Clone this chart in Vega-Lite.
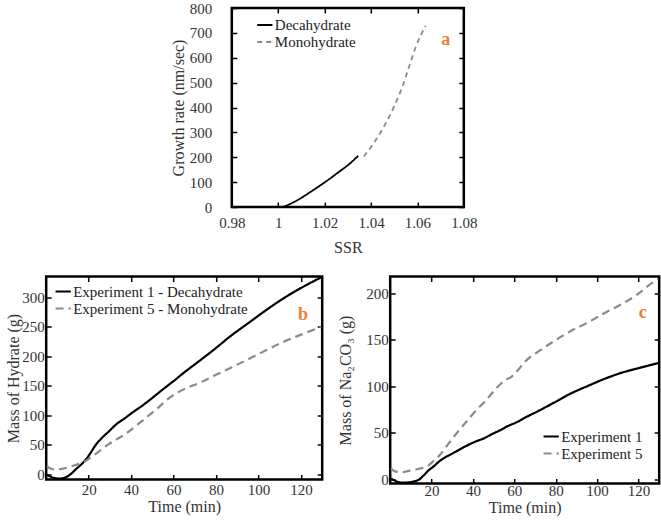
{
  "$schema": "https://vega.github.io/schema/vega-lite/v6.json",
  "padding": {"left": 4, "top": -1, "right": 2, "bottom": 0},
  "background": "white",
  "datasets": {
    "a_lines": [
      {"series": "Decahydrate", "ssr": 1.002, "rate": 0},
      {"series": "Decahydrate", "ssr": 1.006, "rate": 16},
      {"series": "Decahydrate", "ssr": 1.010, "rate": 37},
      {"series": "Decahydrate", "ssr": 1.014, "rate": 61},
      {"series": "Decahydrate", "ssr": 1.018, "rate": 86},
      {"series": "Decahydrate", "ssr": 1.022, "rate": 112},
      {"series": "Decahydrate", "ssr": 1.026, "rate": 140},
      {"series": "Decahydrate", "ssr": 1.030, "rate": 168},
      {"series": "Decahydrate", "ssr": 1.0345, "rate": 206},
      {"series": "Monohydrate", "ssr": 1.0369, "rate": 203},
      {"series": "Monohydrate", "ssr": 1.0419, "rate": 267},
      {"series": "Monohydrate", "ssr": 1.0462, "rate": 334},
      {"series": "Monohydrate", "ssr": 1.0498, "rate": 401},
      {"series": "Monohydrate", "ssr": 1.0534, "rate": 481},
      {"series": "Monohydrate", "ssr": 1.0563, "rate": 561},
      {"series": "Monohydrate", "ssr": 1.0592, "rate": 641},
      {"series": "Monohydrate", "ssr": 1.0635, "rate": 728}
    ],
    "a_label": [{"label": "a", "ssr": 1.0722, "rate": 672}],
    "b_lines": [
      {"series": "Experiment 1 - Decahydrate", "t": 0.5, "m": -1},
      {"series": "Experiment 1 - Decahydrate", "t": 3, "m": -5},
      {"series": "Experiment 1 - Decahydrate", "t": 6, "m": -7},
      {"series": "Experiment 1 - Decahydrate", "t": 9, "m": -5},
      {"series": "Experiment 1 - Decahydrate", "t": 12, "m": 2},
      {"series": "Experiment 1 - Decahydrate", "t": 14, "m": 9},
      {"series": "Experiment 1 - Decahydrate", "t": 16.5, "m": 17},
      {"series": "Experiment 1 - Decahydrate", "t": 18.6, "m": 25},
      {"series": "Experiment 1 - Decahydrate", "t": 21, "m": 37},
      {"series": "Experiment 1 - Decahydrate", "t": 23.3, "m": 50},
      {"series": "Experiment 1 - Decahydrate", "t": 26, "m": 61},
      {"series": "Experiment 1 - Decahydrate", "t": 29.5, "m": 73},
      {"series": "Experiment 1 - Decahydrate", "t": 33, "m": 85},
      {"series": "Experiment 1 - Decahydrate", "t": 37.3, "m": 96},
      {"series": "Experiment 1 - Decahydrate", "t": 41, "m": 106},
      {"series": "Experiment 1 - Decahydrate", "t": 45, "m": 116},
      {"series": "Experiment 1 - Decahydrate", "t": 49, "m": 127},
      {"series": "Experiment 1 - Decahydrate", "t": 52.8, "m": 138},
      {"series": "Experiment 1 - Decahydrate", "t": 57, "m": 150},
      {"series": "Experiment 1 - Decahydrate", "t": 60.6, "m": 160},
      {"series": "Experiment 1 - Decahydrate", "t": 64, "m": 170},
      {"series": "Experiment 1 - Decahydrate", "t": 72, "m": 192},
      {"series": "Experiment 1 - Decahydrate", "t": 79.5, "m": 213},
      {"series": "Experiment 1 - Decahydrate", "t": 87, "m": 235},
      {"series": "Experiment 1 - Decahydrate", "t": 95, "m": 256},
      {"series": "Experiment 1 - Decahydrate", "t": 103, "m": 277},
      {"series": "Experiment 1 - Decahydrate", "t": 110.7, "m": 296},
      {"series": "Experiment 1 - Decahydrate", "t": 120, "m": 316},
      {"series": "Experiment 1 - Decahydrate", "t": 129.5, "m": 334},
      {"series": "Experiment 5 - Monohydrate", "t": 0.3, "m": 14},
      {"series": "Experiment 5 - Monohydrate", "t": 2, "m": 10},
      {"series": "Experiment 5 - Monohydrate", "t": 4.3, "m": 8.5},
      {"series": "Experiment 5 - Monohydrate", "t": 8, "m": 10},
      {"series": "Experiment 5 - Monohydrate", "t": 13.7, "m": 16},
      {"series": "Experiment 5 - Monohydrate", "t": 18.4, "m": 22.5},
      {"series": "Experiment 5 - Monohydrate", "t": 23, "m": 34},
      {"series": "Experiment 5 - Monohydrate", "t": 29.3, "m": 51},
      {"series": "Experiment 5 - Monohydrate", "t": 37, "m": 68},
      {"series": "Experiment 5 - Monohydrate", "t": 44.9, "m": 90},
      {"series": "Experiment 5 - Monohydrate", "t": 52.7, "m": 113},
      {"series": "Experiment 5 - Monohydrate", "t": 57, "m": 127},
      {"series": "Experiment 5 - Monohydrate", "t": 64, "m": 143},
      {"series": "Experiment 5 - Monohydrate", "t": 72, "m": 155},
      {"series": "Experiment 5 - Monohydrate", "t": 79.5, "m": 168},
      {"series": "Experiment 5 - Monohydrate", "t": 87, "m": 181},
      {"series": "Experiment 5 - Monohydrate", "t": 95, "m": 195},
      {"series": "Experiment 5 - Monohydrate", "t": 110.7, "m": 223},
      {"series": "Experiment 5 - Monohydrate", "t": 129.5, "m": 250}
    ],
    "b_label": [{"label": "b", "t": 121, "m": 270}],
    "c_lines": [
      {"series": "Experiment 1", "t": 0.5, "m": 1},
      {"series": "Experiment 1", "t": 3, "m": -2},
      {"series": "Experiment 1", "t": 5.6, "m": -3.4},
      {"series": "Experiment 1", "t": 9, "m": -3},
      {"series": "Experiment 1", "t": 13.6, "m": -0.5},
      {"series": "Experiment 1", "t": 16, "m": 4},
      {"series": "Experiment 1", "t": 18.4, "m": 9.5},
      {"series": "Experiment 1", "t": 21, "m": 14},
      {"series": "Experiment 1", "t": 23.2, "m": 18.5},
      {"series": "Experiment 1", "t": 26, "m": 23},
      {"series": "Experiment 1", "t": 29.6, "m": 27.3},
      {"series": "Experiment 1", "t": 33, "m": 31.5},
      {"series": "Experiment 1", "t": 37.6, "m": 37},
      {"series": "Experiment 1", "t": 41, "m": 40.5},
      {"series": "Experiment 1", "t": 45.6, "m": 44.5},
      {"series": "Experiment 1", "t": 49, "m": 48.5},
      {"series": "Experiment 1", "t": 53.6, "m": 53.4},
      {"series": "Experiment 1", "t": 57, "m": 57.5},
      {"series": "Experiment 1", "t": 61.6, "m": 62},
      {"series": "Experiment 1", "t": 64, "m": 65},
      {"series": "Experiment 1", "t": 72, "m": 74},
      {"series": "Experiment 1", "t": 79.6, "m": 83},
      {"series": "Experiment 1", "t": 87, "m": 92},
      {"series": "Experiment 1", "t": 95.6, "m": 100.5},
      {"series": "Experiment 1", "t": 103, "m": 107.5},
      {"series": "Experiment 1", "t": 111.7, "m": 114.5},
      {"series": "Experiment 1", "t": 120, "m": 119.5},
      {"series": "Experiment 1", "t": 129.5, "m": 125},
      {"series": "Experiment 5", "t": 0.3, "m": 12},
      {"series": "Experiment 5", "t": 2, "m": 9},
      {"series": "Experiment 5", "t": 5.6, "m": 7.8},
      {"series": "Experiment 5", "t": 9.5, "m": 9.5},
      {"series": "Experiment 5", "t": 13.6, "m": 11.3},
      {"series": "Experiment 5", "t": 18.4, "m": 14.9},
      {"series": "Experiment 5", "t": 21, "m": 20},
      {"series": "Experiment 5", "t": 24.8, "m": 28.3},
      {"series": "Experiment 5", "t": 27, "m": 35},
      {"series": "Experiment 5", "t": 29.6, "m": 42.6},
      {"series": "Experiment 5", "t": 33, "m": 52},
      {"series": "Experiment 5", "t": 37.6, "m": 64},
      {"series": "Experiment 5", "t": 41, "m": 73},
      {"series": "Experiment 5", "t": 45.6, "m": 83.4},
      {"series": "Experiment 5", "t": 49, "m": 92},
      {"series": "Experiment 5", "t": 53.6, "m": 103},
      {"series": "Experiment 5", "t": 56, "m": 107},
      {"series": "Experiment 5", "t": 58.4, "m": 110},
      {"series": "Experiment 5", "t": 61.6, "m": 117},
      {"series": "Experiment 5", "t": 64.5, "m": 125},
      {"series": "Experiment 5", "t": 72, "m": 138},
      {"series": "Experiment 5", "t": 79.6, "m": 149},
      {"series": "Experiment 5", "t": 87, "m": 159},
      {"series": "Experiment 5", "t": 95.6, "m": 168.6},
      {"series": "Experiment 5", "t": 103, "m": 178},
      {"series": "Experiment 5", "t": 111.7, "m": 188},
      {"series": "Experiment 5", "t": 119, "m": 198},
      {"series": "Experiment 5", "t": 126.6, "m": 211},
      {"series": "Experiment 5", "t": 129.5, "m": 215}
    ],
    "c_label": [{"label": "c", "t": 122, "m": 179}]
  },
  "config": {
    "font": "Liberation Serif",
    "view": {"stroke": "black", "strokeWidth": 2.5},
    "axis": {
      "grid": false,
      "domain": false,
      "tickColor": "black",
      "tickSize": -5,
      "tickWidth": 1.5,
      "labelFont": "Liberation Serif",
      "labelFontSize": 15,
      "labelColor": "#333",
      "labelFlush": false,
      "labelOverlap": false,
      "titleFont": "Liberation Serif",
      "titleFontSize": 16,
      "titleFontWeight": "normal",
      "titleColor": "#333"
    },
    "legend": {
      "labelFont": "Liberation Serif",
      "labelFontSize": 15,
      "labelColor": "#222",
      "labelLimit": 0,
      "symbolType": "stroke",
      "symbolStrokeWidth": 2,
      "symbolSize": 234,
      "rowPadding": 0,
      "labelOffset": 1,
      "padding": 0,
      "title": null
    }
  },
  "vconcat": [
    {
      "width": 232,
      "height": 199,
      "layer": [
        {
          "data": {"name": "a_lines"},
          "mark": {"type": "line", "interpolate": "monotone", "strokeWidth": 1.8},
          "encoding": {
            "x": {"field": "ssr", "type": "quantitative", "title": "SSR",
              "scale": {"domain": [0.98, 1.08], "nice": false, "zero": false},
              "axis": {"values": [0.98, 1, 1.02, 1.04, 1.06, 1.08], "format": "~g", "labelPadding": 13, "titlePadding": 9}},
            "y": {"field": "rate", "type": "quantitative", "title": "Growth rate (nm/sec)",
              "scale": {"domain": [0, 800], "nice": false},
              "axis": {"values": [0, 100, 200, 300, 400, 500, 600, 700, 800], "labelPadding": 25, "titlePadding": 3}},
            "color": {"field": "series", "type": "nominal",
              "scale": {"domain": ["Decahydrate", "Monohydrate"], "range": ["#000000", "#8a8a8a"]},
              "legend": {"orient": "none", "legendX": 24, "legendY": 8}},
            "strokeDash": {"field": "series", "type": "nominal",
              "scale": {"domain": ["Decahydrate", "Monohydrate"], "range": [[1, 0], [5, 4]]},
              "legend": {"orient": "none", "legendX": 24, "legendY": 8}}
          }
        },
        {
          "data": {"name": "a_label"},
          "mark": {"type": "text", "color": "#ED7D31", "fontWeight": "bold", "fontSize": 18, "font": "Liberation Serif"},
          "encoding": {
            "x": {"field": "ssr", "type": "quantitative", "axis": {"orient": "top", "labels": false, "title": null, "minExtent": 0, "values": [0.98, 1, 1.02, 1.04, 1.06, 1.08]}},
            "y": {"field": "rate", "type": "quantitative", "axis": {"orient": "right", "labels": false, "title": null, "minExtent": 0, "values": [0, 100, 200, 300, 400, 500, 600, 700, 800]}},
            "text": {"field": "label"}
          }
        }
      ],
      "resolve": {"axis": {"x": "independent", "y": "independent"}}
    },
    {
      "hconcat": [
        {
          "width": 276,
          "height": 203,
          "layer": [
            {
              "data": {"name": "b_lines"},
              "mark": {"type": "line", "interpolate": "monotone", "strokeWidth": 2.2},
              "encoding": {
                "x": {"field": "t", "type": "quantitative", "title": "Time (min)",
                  "scale": {"domain": [0, 130], "nice": false},
                  "axis": {"values": [20, 40, 60, 80, 100, 120], "labelPadding": 8, "titlePadding": 1}},
                "y": {"field": "m", "type": "quantitative", "title": "Mass of Hydrate (g)",
                  "scale": {"domain": [-8.5, 335.5], "nice": false, "zero": false},
                  "axis": {"values": [0, 50, 100, 150, 200, 250, 300], "labelPadding": 7, "titlePadding": 0}},
                "color": {"field": "series", "type": "nominal",
                  "scale": {"domain": ["Experiment 1 - Decahydrate", "Experiment 5 - Monohydrate"], "range": ["#000000", "#8a8a8a"]},
                  "legend": {"orient": "none", "legendX": 8, "legendY": 6}},
                "strokeDash": {"field": "series", "type": "nominal",
                  "scale": {"domain": ["Experiment 1 - Decahydrate", "Experiment 5 - Monohydrate"], "range": [[1, 0], [8, 5]]},
                  "legend": {"orient": "none", "legendX": 8, "legendY": 6}}
              }
            },
            {
              "data": {"name": "b_label"},
              "mark": {"type": "text", "color": "#ED7D31", "fontWeight": "bold", "fontSize": 18, "font": "Liberation Serif"},
              "encoding": {
                "x": {"field": "t", "type": "quantitative", "axis": {"orient": "top", "labels": false, "title": null, "minExtent": 0, "values": [20, 40, 60, 80, 100, 120]}},
                "y": {"field": "m", "type": "quantitative", "axis": {"orient": "right", "labels": false, "title": null, "minExtent": 0, "values": [0, 50, 100, 150, 200, 250, 300]}},
                "text": {"field": "label"}
              }
            }
          ],
          "resolve": {"axis": {"x": "independent", "y": "independent"}}
        },
        {
          "width": 269,
          "height": 207,
          "layer": [
            {
              "data": {"name": "c_lines"},
              "mark": {"type": "line", "interpolate": "monotone", "strokeWidth": 2.2},
              "encoding": {
                "x": {"field": "t", "type": "quantitative", "title": "Time (min)",
                  "scale": {"domain": [0, 130], "nice": false},
                  "axis": {"values": [20, 40, 60, 80, 100, 120], "labelPadding": 4.5, "titlePadding": 1}},
                "y": {"field": "m", "type": "quantitative", "title": "Mass of Na₂CO₃ (g)",
                  "scale": {"domain": [-4.3, 217.9], "nice": false, "zero": false},
                  "axis": {"values": [0, 50, 100, 150, 200], "labelPadding": 7, "titlePadding": 12}},
                "color": {"field": "series", "type": "nominal",
                  "scale": {"domain": ["Experiment 1", "Experiment 5"], "range": ["#000000", "#8a8a8a"]},
                  "legend": {"orient": "none", "legendX": 152, "legendY": 151}},
                "strokeDash": {"field": "series", "type": "nominal",
                  "scale": {"domain": ["Experiment 1", "Experiment 5"], "range": [[1, 0], [8, 5]]},
                  "legend": {"orient": "none", "legendX": 152, "legendY": 151}}
              }
            },
            {
              "data": {"name": "c_label"},
              "mark": {"type": "text", "color": "#ED7D31", "fontWeight": "bold", "fontSize": 18, "font": "Liberation Serif"},
              "encoding": {
                "x": {"field": "t", "type": "quantitative", "axis": {"orient": "top", "labels": false, "title": null, "minExtent": 0, "values": [20, 40, 60, 80, 100, 120]}},
                "y": {"field": "m", "type": "quantitative", "axis": {"orient": "right", "labels": false, "title": null, "minExtent": 0, "values": [0, 50, 100, 150, 200]}},
                "text": {"field": "label"}
              }
            }
          ],
          "resolve": {"axis": {"x": "independent", "y": "independent"}}
        }
      ],
      "spacing": 68,
      "bounds": "flush",
      "resolve": {"scale": {"color": "independent", "strokeDash": "independent", "x": "independent", "y": "independent"}, "legend": {"color": "independent", "strokeDash": "independent"}}
    }
  ],
  "spacing": 14.5,
  "center": true,
  "resolve": {"scale": {"color": "independent", "strokeDash": "independent", "x": "independent", "y": "independent"}, "legend": {"color": "independent", "strokeDash": "independent"}}
}
